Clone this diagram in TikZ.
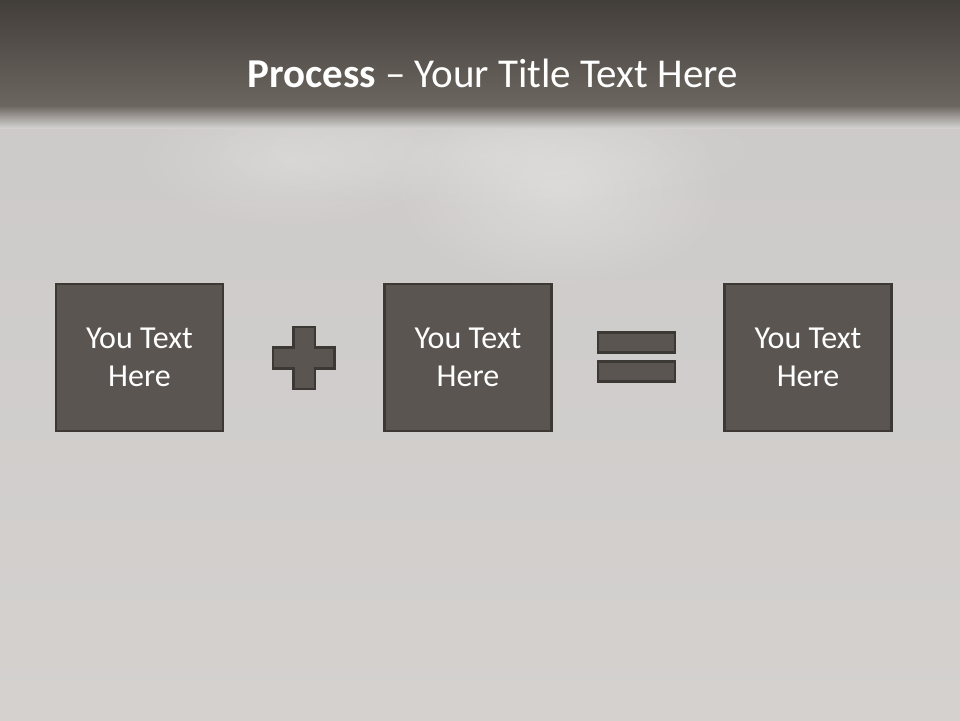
\documentclass[tikz,border=0pt]{standalone}
\usepackage{fontspec}
\setmainfont{Carlito}
\usetikzlibrary{fadings}
\tikzfading[name=softglow, inner color=transparent!0, outer color=transparent!100]
\definecolor{bgc}{HTML}{CBC9C8}
\definecolor{bgl}{HTML}{D4D1CF}
\definecolor{barTop}{HTML}{423E3A}
\definecolor{barBot}{HTML}{6C6660}
\definecolor{boxfill}{HTML}{5A5550}
\definecolor{boxline}{HTML}{3C3935}
\begin{document}
\begin{tikzpicture}[x=1pt,y=-1pt,
  card/.style={draw=boxline, line width=2.5pt, fill=boxfill, minimum width=167pt, minimum height=147pt, inner sep=0pt, text=white, align=center, font=\fontsize{32}{38.5}\selectfont},
  sym/.style={draw=boxline, line width=2.5pt, fill=boxfill}]
\useasboundingbox (0,0) rectangle (960,720);
% background
\shade[top color=bgc, bottom color=bgl] (0,0) rectangle (960,720);
\fill[white, opacity=0.28, path fading=softglow] (560,190) ellipse (170 and 100);
\fill[white, opacity=0.2, path fading=softglow] (290,160) ellipse (160 and 70);
\fill[white, opacity=0.15, path fading=softglow] (480,150) ellipse (300 and 60);
% title bar
\shade[top color=barTop, bottom color=barBot] (0,0) rectangle (960,106);
\shade[top color=barBot, bottom color=bgc!85!white] (0,105.5) rectangle (960,128);
\node[text=white, font=\fontsize{41}{49}\selectfont, anchor=base] (title) at (492.5,87.3) {\textbf{Process} -- Your Title Text Here};
% boxes
\node[card] (b1) at (139.5,357.5) {You Text\\Here};
\node[card] (b2) at (468,357.5) {You Text\\Here};
\node[card] (b3) at (808,357.5) {You Text\\Here};
% plus
\draw[sym] (293.5,327) -- (315,327) -- (315,347.5) -- (334.5,347.5) -- (334.5,368.5) -- (315,368.5) -- (315,389) -- (293.5,389) -- (293.5,368.5) -- (273,368.5) -- (273,347.5) -- (293.5,347.5) -- cycle;
% equals
\draw[sym] (598,332.5) rectangle (675,352.5);
\draw[sym] (598,361.5) rectangle (675,381.5);
\end{tikzpicture}
\end{document}
